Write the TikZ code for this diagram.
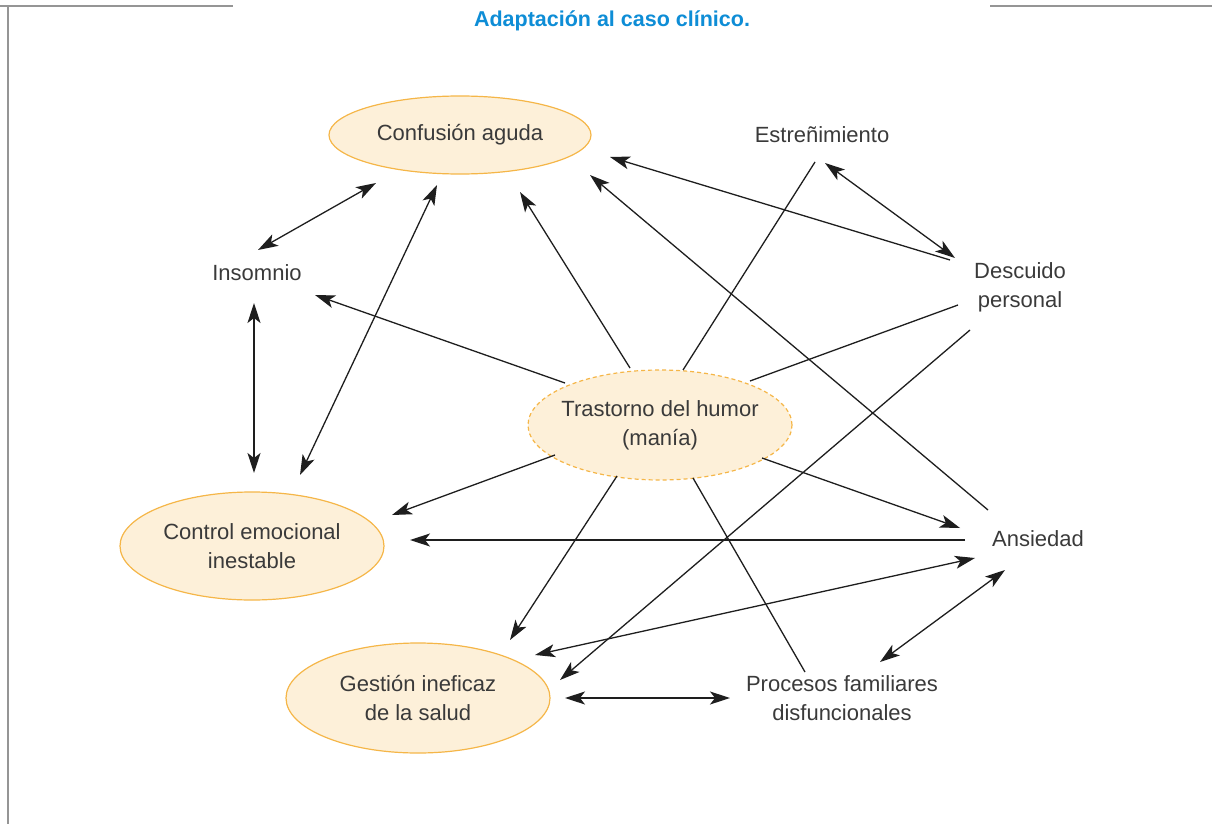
\documentclass[tikz,border=0pt]{standalone}
\usepackage{fontspec}
\setmainfont{Liberation Sans}
\usetikzlibrary{shapes.geometric,arrows.meta,calc}
\definecolor{ink}{HTML}{3A3A3A}
\definecolor{edge}{HTML}{1E1E1E}
\definecolor{cream}{HTML}{FDF0D9}
\definecolor{amber}{HTML}{F5B648}
\definecolor{titleblue}{HTML}{0E8DD6}
\definecolor{frame}{HTML}{959595}
\begin{document}
\begin{tikzpicture}[x=1pt,y=-1pt,
  lbl/.style={text=ink,font=\fontsize{22}{29}\selectfont,align=center,inner sep=0pt},
  oval/.style={lbl,ellipse,draw=amber,line width=1.2pt,fill=cream,minimum width=264pt},
  link/.style={draw=edge,line width=1.3pt},
  arr/.style={link,-{Stealth[length=20pt,width=13pt,inset=5pt]}},
  dbl/.style={link,{Stealth[length=20pt,width=13pt,inset=5pt]}-{Stealth[length=20pt,width=13pt,inset=5pt]}}
]
\useasboundingbox (0,0) rectangle (1212,824);

% frame
\draw[frame,line width=2.2pt] (0,6) -- (233,6);
\draw[frame,line width=2.2pt] (990,6) -- (1212,6);
\draw[frame,line width=2.2pt] (8,6) -- (8,824);

% title
\node[text=titleblue,font=\fontsize{21.5}{26}\selectfont\bfseries,inner sep=0pt] (title) at (612,21) {Adaptación al caso clínico.};

% diagnoses
\node[oval,minimum width=262pt,minimum height=78pt] (conf) at (460,135) {Confusión aguda};
\node[oval,dashed,dash pattern=on 4pt off 3pt,inner xsep=-6pt,minimum height=110pt] (tras) at (660,425) {Trastorno del humor\\(manía)};
\node[oval,minimum height=108pt] (ctrl) at (252,546) {Control emocional\\inestable};
\node[oval,minimum height=110pt] (gest) at (418,698) {Gestión ineficaz\\de la salud};

\node[lbl] (estr) at (822,135) {Estreñimiento};
\node[lbl] (ins) at (257,273) {Insomnio};
\node[lbl] (desc) at (1020,287) {Descuido\\personal};
\node[lbl] (ans) at (1038,539) {Ansiedad};
\node[lbl] (proc) at (842,698) {Procesos familiares\\disfuncionales};

% relations
\draw[dbl] ($(ins)+(1,-23)$) -- ($(conf)+(-84,48)$);
\draw[dbl] ($(ins)+(-3,30)$) -- ($(ctrl)+(2,-73)$);
\draw[dbl] ($(ctrl)+(48,-71)$) -- ($(conf)+(-23,50)$);
\draw[arr] ($(tras)+(-95,-42)$) -- ($(ins)+(58,22)$);
\draw[arr] ($(tras)+(-30,-57)$) -- ($(conf)+(60,57)$);
\draw[link] ($(estr)+(-7,27)$) -- ($(tras)+(23,-55)$);
\draw[dbl] ($(estr)+(3,28)$) -- ($(desc)+(-65,-29)$);
\draw[arr] ($(desc)+(-70,-27)$) -- ($(conf)+(150,22)$);
\draw[link] ($(desc)+(-62,18)$) -- ($(tras)+(90,-44)$);
\draw[arr] ($(desc)+(-50,43)$) -- ($(gest)+(142,-18)$);
\draw[arr] ($(ans)+(-50,-29)$) -- ($(conf)+(130,40)$);
\draw[arr] ($(tras)+(-105,30)$) -- ($(ctrl)+(140,-31)$);
\draw[arr] ($(tras)+(102,33)$) -- ($(ans)+(-78,-11)$);
\draw[arr] ($(ans)+(-73,1)$) -- ($(ctrl)+(158,-6)$);
\draw[dbl] ($(gest)+(117,-43)$) -- ($(ans)+(-63,19)$);
\draw[arr] ($(tras)+(-43,51)$) -- ($(gest)+(92,-58)$);
\draw[link] ($(tras)+(33,53)$) -- ($(proc)+(-37,-26)$);
\draw[dbl] ($(proc)+(38,-36)$) -- ($(ans)+(-33,31)$);
\draw[dbl] ($(gest)+(147,0)$) -- ($(proc)+(-112,0)$);
\end{tikzpicture}
\end{document}
